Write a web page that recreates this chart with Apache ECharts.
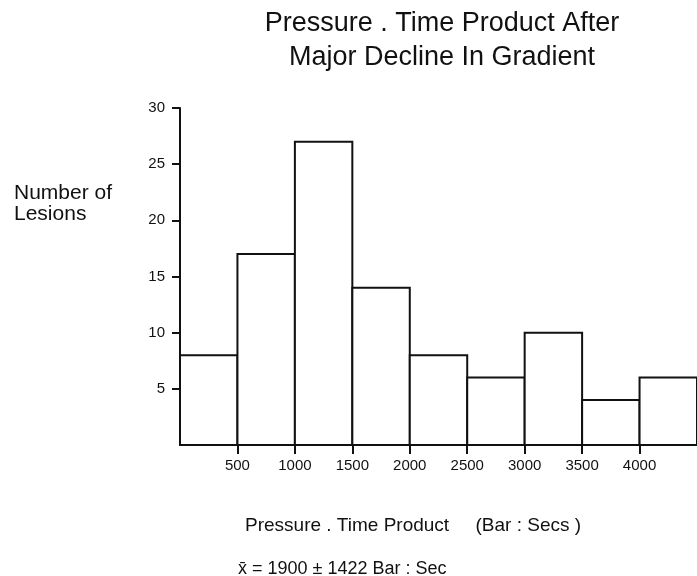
<!DOCTYPE html>
<html>
<head>
<meta charset="utf-8">
<script src="https://cdn.jsdelivr.net/npm/echarts@6/dist/echarts.min.js"></script>
<style>
  html, body { margin: 0; padding: 0; background: #fff; }
  #chart { width: 697px; height: 576px; }
</style>
</head>
<body>
<div id="chart"></div>
<script>
// bin edges (Bar : Secs) and lesion counts per bin
var binStart = [0, 500, 1000, 1500, 2000, 2500, 3000, 3500, 4000];
var binEnd = [500, 1000, 1500, 2000, 2500, 3000, 3500, 4000, 4500];
var lesions = [8, 17, 27, 14, 8, 6, 10, 4, 6];

var xTicks = [500, 1000, 1500, 2000, 2500, 3000, 3500, 4000];
var yTicks = [5, 10, 15, 20, 25, 30];

var font = "Liberation Sans";

var chart = echarts.init(document.getElementById("chart"));

var data = [];
for (var i = 0; i < lesions.length; i++) {
  data.push([binStart[i], binEnd[i], lesions[i]]);
}

chart.setOption({
  animation: false,
  backgroundColor: "#fff",
  title: [
    {
      text: "Pressure . Time Product After\nMajor Decline In Gradient",
      left: 437,
      top: 2,
      textAlign: "center",
      textStyle: { fontFamily: font, fontSize: 27, fontWeight: "normal", color: "#111", lineHeight: 34 }
    },
    {
      text: "Number of\nLesions",
      left: 9,
      top: 178,
      textStyle: { fontFamily: font, fontSize: 21, fontWeight: "normal", color: "#111", lineHeight: 21 }
    },
    {
      text: "Pressure . Time Product     (Bar : Secs )",
      left: 240,
      top: 511,
      textStyle: { fontFamily: font, fontSize: 19, fontWeight: "normal", color: "#111" }
    },
    {
      text: "x\u0304 = 1900 \u00b1 1422 Bar : Sec",
      left: 233,
      top: 555,
      textStyle: { fontFamily: font, fontSize: 18, fontWeight: "normal", color: "#111" }
    }
  ],
  grid: { left: 180, right: 0, top: 108, bottom: 131 },
  xAxis: {
    type: "value",
    min: 0,
    max: 4500,
    interval: 500,
    splitLine: { show: false },
    axisLine: { lineStyle: { color: "#111", width: 2 } },
    axisTick: { customValues: xTicks, length: 9, lineStyle: { color: "#111", width: 2 } },
    axisLabel: {
      customValues: xTicks,
      formatter: function (v) { return String(v); },
      fontFamily: font, fontSize: 15, color: "#111", margin: 13
    }
  },
  yAxis: {
    type: "value",
    min: 0,
    max: 30,
    interval: 5,
    splitLine: { show: false },
    axisLine: { show: true, lineStyle: { color: "#111", width: 2 } },
    axisTick: { customValues: yTicks, length: 8, lineStyle: { color: "#111", width: 2 } },
    axisLabel: { customValues: yTicks, fontFamily: font, fontSize: 15, color: "#111", margin: 15 }
  },
  series: [
    {
      type: "custom",
      clip: true,
      data: data,
      encode: { x: [0, 1], y: 2 },
      renderItem: function (params, api) {
        var p0 = api.coord([api.value(0), api.value(2)]);
        var p1 = api.coord([api.value(1), 0]);
        return {
          type: "rect",
          shape: { x: p0[0], y: p0[1], width: p1[0] - p0[0], height: p1[1] - p0[1] },
          style: { fill: "#fff", stroke: "#111", lineWidth: 2 }
        };
      }
    }
  ]
});
</script>
</body>
</html>
